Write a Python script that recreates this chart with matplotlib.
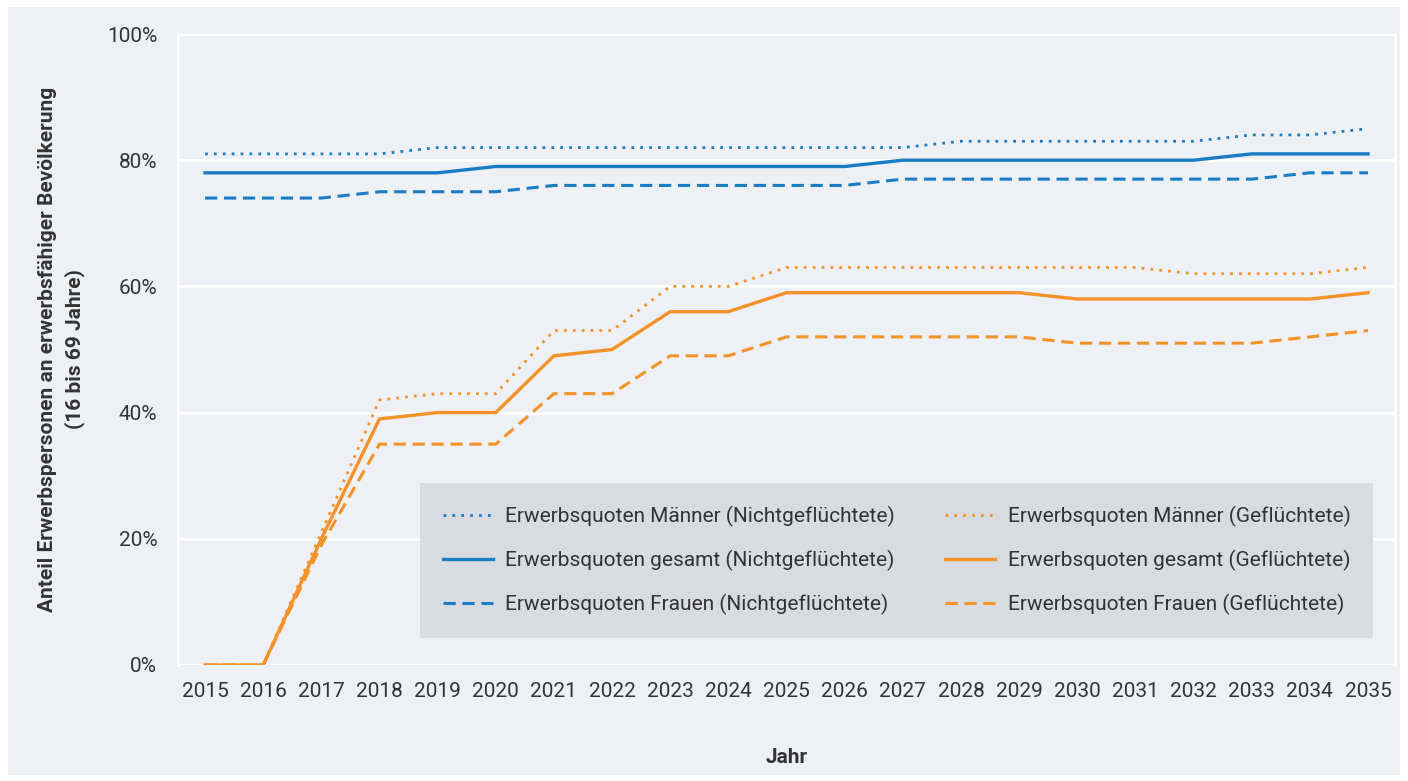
import matplotlib
matplotlib.use("Agg")
import matplotlib.pyplot as plt
from matplotlib.patches import Rectangle
from matplotlib.ticker import FuncFormatter

# Data (Erwerbsquoten in %)
years = list(range(2015, 2036))

m_nicht = [81, 81, 81, 81, 82, 82, 82, 82, 82, 82, 82, 82, 82, 83, 83, 83, 83, 83, 84, 84, 85]
g_nicht = [78, 78, 78, 78, 78, 79, 79, 79, 79, 79, 79, 79, 80, 80, 80, 80, 80, 80, 81, 81, 81]
f_nicht = [74, 74, 74, 75, 75, 75, 76, 76, 76, 76, 76, 76, 77, 77, 77, 77, 77, 77, 77, 78, 78]

m_gefl = [0, 0, 21, 42, 43, 43, 53, 53, 60, 60, 63, 63, 63, 63, 63, 63, 63, 62, 62, 62, 63]
g_gefl = [0, 0, 20, 39, 40, 40, 49, 50, 56, 56, 59, 59, 59, 59, 59, 58, 58, 58, 58, 58, 59]
f_gefl = [0, 0, 19, 35, 35, 35, 43, 43, 49, 49, 52, 52, 52, 52, 52, 51, 51, 51, 51, 52, 53]

labels = [
    "Erwerbsquoten Männer (Nichtgeflüchtete)",
    "Erwerbsquoten gesamt (Nichtgeflüchtete)",
    "Erwerbsquoten Frauen (Nichtgeflüchtete)",
    "Erwerbsquoten Männer (Geflüchtete)",
    "Erwerbsquoten gesamt (Geflüchtete)",
    "Erwerbsquoten Frauen (Geflüchtete)",
]

blue = '#1a7cc4'
orange = '#f39228'
panel = '#edf0f4'
text_col = '#333333'

plt.rcParams['font.family'] = ['Roboto', 'DejaVu Sans']
plt.rcParams['font.size'] = 15

W, H = 1408, 781
fig = plt.figure(figsize=(W / 100, H / 100), dpi=100, facecolor='white')
fig.patches.append(Rectangle((8 / W, 6 / H), 1392 / W, 768 / H, transform=fig.transFigure,
                             facecolor=panel, edgecolor='none', zorder=-5))

ax = fig.add_axes([178 / W, 1 - 665 / H, (1395 - 178) / W, (665 - 34) / H])
ax.set_facecolor(panel)

dotted = (0, (1, 2.2))
dashed = (0, (4, 2.2))

series = [
    (m_nicht, blue, dotted, 2.0),
    (g_nicht, blue, '-', 2.4),
    (f_nicht, blue, dashed, 2.2),
    (m_gefl, orange, dotted, 2.0),
    (g_gefl, orange, '-', 2.4),
    (f_gefl, orange, dashed, 2.2),
]
for (vals, col, ls, lw), lab in zip(series, labels):
    ax.plot(years, vals, color=col, linestyle=ls, linewidth=lw, label=lab, zorder=3)

ax.set_xlim(2014.535, 2035.465)
ax.set_ylim(0, 100)
ax.set_xticks(years)
ax.set_yticks(range(0, 101, 20))
ax.yaxis.set_major_formatter(FuncFormatter(lambda v, p: f"{v:.0f}%"))
ax.tick_params(length=0, colors=text_col, labelsize=15)
ax.tick_params(axis='x', pad=12)
ax.tick_params(axis='y', pad=15)
ax.grid(axis='y', color='white', linewidth=2.2, zorder=1)
ax.set_axisbelow(True)
for s in ax.spines.values():
    s.set_visible(False)
ax.spines['left'].set_visible(True)
ax.spines['right'].set_visible(True)
ax.spines['left'].set_color('white')
ax.spines['right'].set_color('white')
ax.spines['left'].set_linewidth(2)
ax.spines['right'].set_linewidth(2)

ax.set_xlabel("Jahr", fontweight='bold', color=text_col, labelpad=34)
ax.set_ylabel("Anteil Erwerbspersonen an erwerbsfähiger Bevölkerung\n(16 bis 69 Jahre)",
              fontweight='bold', color=text_col, labelpad=16, linespacing=1.45)

leg = ax.legend(ncol=2, loc='upper left',
                bbox_to_anchor=((420 - 178) / (1395 - 178), (665 - 483) / (665 - 34)),
                facecolor='#d8dbe0', edgecolor='none', framealpha=1,
                fancybox=False, handlelength=2.4, handletextpad=0.6, labelspacing=1.1,
                borderpad=1.1, borderaxespad=0, columnspacing=2.4, fontsize=15)
for t in leg.get_texts():
    t.set_color(text_col)

fig.savefig("out.png", dpi=100, facecolor=fig.get_facecolor())
